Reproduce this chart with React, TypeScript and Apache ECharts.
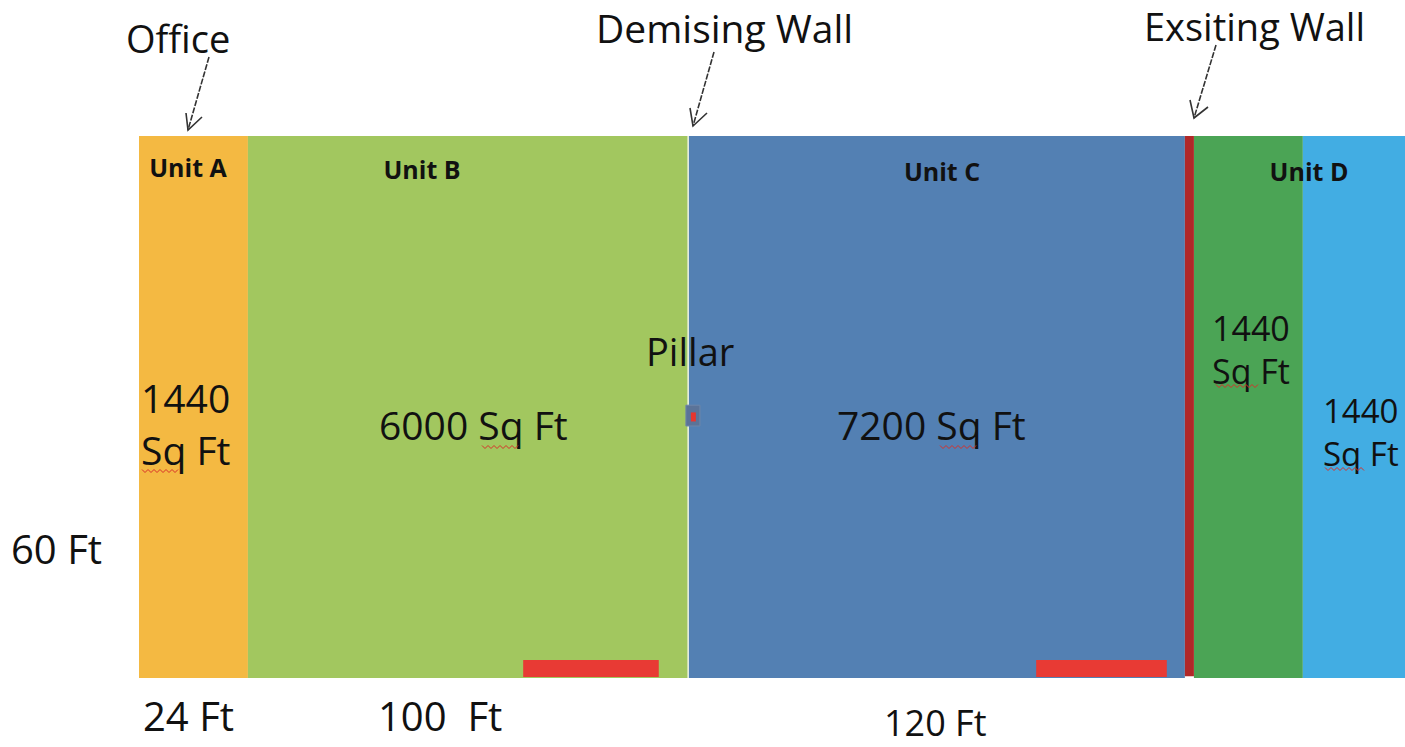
import React, { useEffect, useRef } from "react";
import * as echarts from "echarts";

// Floor plan (plan units ≈ feet as drawn; depth 60 ft)
const unitNames = ["Unit A", "Unit B", "Unit C", "Unit D", ""];
const unitStart = [0, 24.1, 121.5, 233.4, 257.5];
const unitEnd = [24.1, 121.5, 231.4, 257.5, 280.1];
const unitAreas = ["1440\nSq Ft", "6000 Sq Ft", "7200 Sq Ft", "1440\nSq Ft", "1440\nSq Ft"];
const planDepth = 60;
const existingWall = [231.4, 233.4];
const demisingWallX = 121.5;
const doorStart = [85.0, 198.5];
const doorEnd = [115.0, 227.4];
const doorTop = 58;
const pillarX = [121.0, 124.1];
const pillarY = [29.8, 32.1];
const pillarCoreX = [122.1, 123.2];
const pillarCoreY = [30.6, 31.6];
const widthLabels = ["24 Ft", "100  Ft", "120 Ft"];
const depthLabel = "60 Ft";
const calloutLabels = ["Office", "Demising Wall", "Exsiting Wall"];

const unitColors = ["#F4B942", "#A2C75F", "#5380B3", "#4BA455", "#42ADE3"];
const FONT = "'Open Sans', Lato, sans-serif";

function rectRender(fillFn: (i: number) => string, extra?: any) {
  return (params: any, api: any) => {
    const p0 = api.coord([api.value(0), api.value(2)]);
    const p1 = api.coord([api.value(1), api.value(3)]);
    return {
      type: "rect",
      shape: { x: p0[0], y: p0[1], width: p1[0] - p0[0], height: p1[1] - p0[1] },
      style: { fill: fillFn(params.dataIndex), ...(extra || {}) },
    };
  };
}

function squiggle(x0: number, x1: number, y: number) {
  const pts: number[][] = [];
  let up = true;
  for (let x = x0; x <= x1; x += 3) {
    pts.push([x, up ? y - 1.5 : y + 1.5]);
    up = !up;
  }
  return {
    type: "polyline",
    z: 100,
    shape: { points: pts },
    style: { stroke: "#d8302a", lineWidth: 1, fill: "none" },
    silent: true,
  };
}

function arrow(tail: number[], tip: number[], w1: number[], w2: number[]) {
  const s = { stroke: "#333", lineWidth: 1.6, lineDash: [6, 1.5] };
  return [
    { type: "line", z: 100, shape: { x1: tail[0], y1: tail[1], x2: tip[0], y2: tip[1] }, style: s },
    {
      type: "polyline",
      z: 100,
      shape: { points: [w1, tip, w2] },
      style: { stroke: "#333", lineWidth: 1.6, fill: "none" },
    },
  ];
}

function txt(text: string, x: number, y: number, size: number, opts: any = {}) {
  return {
    type: "text",
    z: 100,
    x,
    y,
    style: {
      text,
      fontFamily: FONT,
      fontSize: size,
      fill: "#111",
      align: opts.align || "left",
      verticalAlign: "middle",
      fontWeight: opts.bold ? "bold" : "normal",
      lineHeight: opts.lineHeight,
    },
  };
}

export default function App() {
  const ref = useRef<HTMLDivElement>(null);
  useEffect(() => {
    if (!ref.current) return;
    const chart = echarts.init(ref.current, undefined, { renderer: "svg" });
    const unitData = unitStart.map((s, i) => [s, unitEnd[i], 0, planDepth]);
    const option: any = {
      animation: false,
      grid: { left: 139, right: 0, top: 136, bottom: 69 },
      xAxis: { type: "value", min: 0, max: unitEnd[unitEnd.length - 1], show: false },
      yAxis: { type: "value", min: 0, max: planDepth, inverse: true, show: false },
      series: [
        {
          type: "custom",
          name: "units",
          renderItem: rectRender((i) => unitColors[i]),
          data: unitData,
          z: 1,
        },
        {
          type: "custom",
          name: "existing wall",
          renderItem: rectRender(() => "#B02828"),
          data: [[existingWall[0], existingWall[1], 0, planDepth - 0.2]],
          z: 2,
        },
        {
          type: "custom",
          name: "demising wall",
          renderItem: (params: any, api: any) => {
            const p0 = api.coord([api.value(0), 0]);
            const p1 = api.coord([api.value(0), planDepth]);
            return {
              type: "line",
              shape: { x1: p0[0], y1: p0[1], x2: p1[0], y2: p1[1] },
              style: { stroke: "#EEF4E4", lineWidth: 1.5 },
            };
          },
          data: [[demisingWallX]],
          z: 3,
        },
        {
          type: "custom",
          name: "doors",
          renderItem: rectRender(() => "#E83A34"),
          data: doorStart.map((s, i) => [s, doorEnd[i], doorTop, planDepth - 0.1]),
          z: 3,
        },
        {
          type: "custom",
          name: "pillar",
          renderItem: rectRender(() => "#5B7398", { stroke: "#6E86A8", lineWidth: 1 }),
          data: [[pillarX[0], pillarX[1], pillarY[0], pillarY[1]]],
          z: 4,
        },
        {
          type: "custom",
          name: "pillar core",
          renderItem: rectRender(() => "#E8352E"),
          data: [[pillarCoreX[0], pillarCoreX[1], pillarCoreY[0], pillarCoreY[1]]],
          z: 5,
        },
      ],
      graphic: [
        txt(calloutLabels[0], 126, 38, 38),
        txt(calloutLabels[1], 596, 27, 39),
        txt(calloutLabels[2], 1144, 26, 38),
        ...arrow([209, 57], [188, 130], [186, 113], [202, 117]),
        ...arrow([714, 52], [693, 126], [690, 108], [707, 113]),
        ...arrow([1216, 45], [1194, 118], [1190, 100], [1208, 107]),
        txt(unitNames[0], 188, 167, 25, { bold: true, align: "center" }),
        txt(unitNames[1], 422, 169, 25, { bold: true, align: "center" }),
        txt(unitNames[2], 942, 171, 25, { bold: true, align: "center" }),
        txt(unitNames[3], 1309, 171, 25, { bold: true, align: "center" }),
        txt(unitAreas[0], 141, 423, 39, { lineHeight: 52 }),
        txt(unitAreas[1], 379, 424, 39),
        txt(unitAreas[2], 837, 424, 39),
        txt(unitAreas[3], 1212, 349, 34, { lineHeight: 43 }),
        txt(unitAreas[4], 1323, 432, 33, { lineHeight: 43 }),
        txt("Pillar", 646, 351, 38),
        txt(depthLabel, 11, 548, 40),
        txt(widthLabels[0], 143, 715, 40),
        txt(widthLabels[1], 378, 715, 40),
        txt(widthLabels[2], 884, 722, 36),
        squiggle(142, 178, 471),
        squiggle(482, 520, 447),
        squiggle(940, 978, 447),
        squiggle(1216, 1258, 386),
        squiggle(1325, 1365, 469),
      ],
    };
    chart.setOption(option);
    return () => chart.dispose();
  }, []);
  return (
    <div
      ref={ref}
      style={{ position: "absolute", left: 0, top: 0, width: 1405, height: 747, background: "#fff" }}
    />
  );
}
